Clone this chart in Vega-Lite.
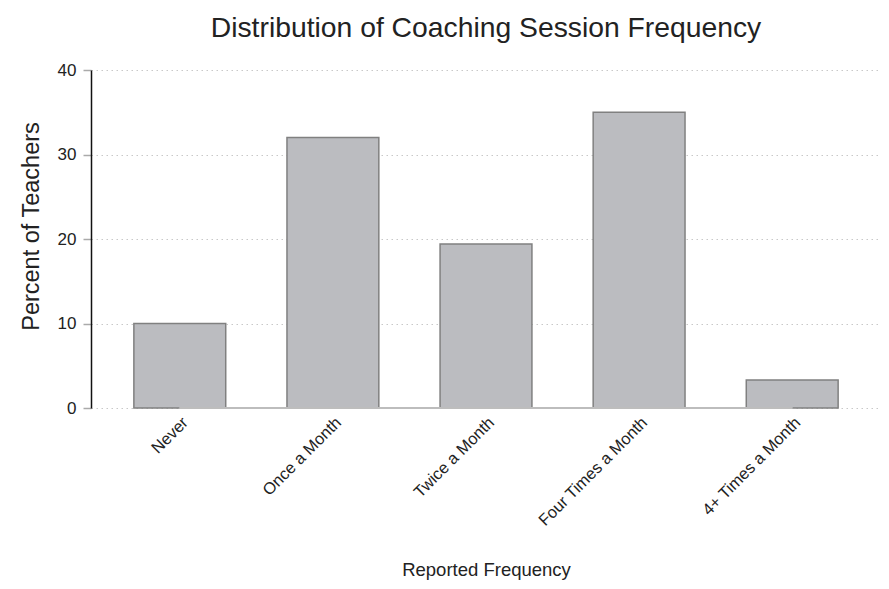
{
  "$schema": "https://vega.github.io/schema/vega-lite/v6.json",
  "width": 790,
  "height": 338,
  "autosize": {"type": "none"},
  "padding": {"left": 91, "top": 70, "right": 8, "bottom": 181},
  "background": "white",
  "config": {
    "font": "Liberation Sans",
    "view": {"stroke": null}
  },
  "title": {
    "text": "Distribution of Coaching Session Frequency",
    "fontSize": 28.3,
    "fontWeight": "normal",
    "color": "#222222",
    "anchor": "middle",
    "baseline": "alphabetic",
    "offset": -4
  },
  "data": {
    "values": [
      {"frequency": "Never", "percent": 10},
      {"frequency": "Once a Month", "percent": 32},
      {"frequency": "Twice a Month", "percent": 19.4},
      {"frequency": "Four Times a Month", "percent": 35},
      {"frequency": "4+ Times a Month", "percent": 3.3}
    ]
  },
  "layer": [
    {
      "mark": {"type": "bar", "fill": "#bbbcc0", "stroke": "#808080", "strokeWidth": 1.5},
      "encoding": {
        "x": {
          "field": "frequency",
          "type": "nominal",
          "sort": null,
          "scale": {"paddingInner": 0.4, "paddingOuter": 0.28},
          "axis": {
            "title": "Reported Frequency",
            "titleFontSize": 18.5,
            "titleFontWeight": "normal",
            "titleColor": "#222222",
            "titlePadding": 32,
            "labelAngle": -45,
            "labelFontSize": 16.4,
            "labelColor": "#222222",
            "labelPadding": 6,
            "domain": false,
            "ticks": false
          }
        },
        "y": {
          "field": "percent",
          "type": "quantitative",
          "scale": {"domain": [0, 40], "nice": false},
          "axis": {
            "title": "Percent of Teachers",
            "titleFontSize": 23.5,
            "titleFontWeight": "normal",
            "titleColor": "#222222",
            "titlePadding": 14,
            "titleY": 156,
            "values": [0, 10, 20, 30, 40],
            "labelFontSize": 17,
            "labelColor": "#222222",
            "labelPadding": 7,
            "tickSize": 8,
            "tickColor": "#aaaaaa",
            "tickWidth": 1.5,
            "domainColor": "#111111",
            "domainWidth": 1.5,
            "grid": true,
            "gridColor": "#c8c8c8",
            "gridDash": [1.5, 3.5],
            "gridWidth": 1
          }
        }
      }
    },
    {
      "mark": {"type": "rule", "color": "#bdbdbd", "strokeWidth": 2},
      "encoding": {
        "x": {"datum": "Never", "type": "nominal"},
        "x2": {"datum": "4+ Times a Month"},
        "y": {"datum": 0, "type": "quantitative"}
      }
    }
  ]
}
